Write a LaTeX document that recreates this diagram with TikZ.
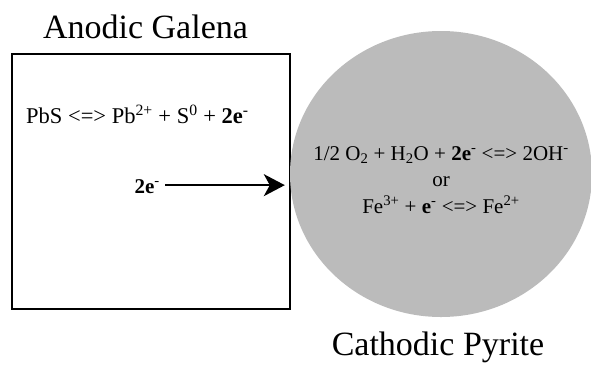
\documentclass[tikz,border=0pt]{standalone}
\usepackage{fontspec}
\setmainfont{Liberation Serif}
\usetikzlibrary{arrows.meta, shapes.geometric, positioning}

\begin{document}
\begin{tikzpicture}[x=1pt, y=-1pt,
  ttl/.style={font=\fontsize{34}{40}\selectfont, anchor=base, inner sep=0pt},
  eqn/.style={font=\fontsize{21}{26.5}\selectfont, inner sep=0pt}]
\useasboundingbox (0,0) rectangle (591,365);
\node[draw, line width=2pt, minimum width=278pt, minimum height=255pt, inner sep=0pt] (galena) at (150.5,181) {};
\node[ellipse, fill={rgb,255:red,187;green,187;blue,187}, minimum width=302pt, minimum height=286pt, inner sep=0pt] (pyrite) at (441,174) {};
\node[ttl] (galenalbl) at (145.5,38) {Anodic Galena};
\node[ttl] (pyritelbl) at (438,355) {Cathodic Pyrite};
\node[eqn, font=\fontsize{22.5}{27}\selectfont, anchor=base west] (anodeeq) at (26,123) {PbS <=> Pb\textsuperscript{2+} + S\textsuperscript{0} + \textbf{2e}\textsuperscript{-}};
\node[eqn, anchor=base east] (electrons) at (160,193) {\textbf{2e}\textsuperscript{-}};
\node[eqn, align=center] (cathodeeq) at (441,180) {1/2 O\textsubscript{2} + H\textsubscript{2}O + \textbf{2e}\textsuperscript{-} <=> 2OH\textsuperscript{-}\\ or\\ Fe\textsuperscript{3+} + \textbf{e}\textsuperscript{-} <=> Fe\textsuperscript{2+}};
\draw[line width=2pt, -{Stealth[length=21pt, width=22pt, inset=6pt]}, shorten >=5pt] (electrons.east) ++(5,-1) coordinate (tail) -- (tail -| pyrite.west);
\end{tikzpicture}
\end{document}
